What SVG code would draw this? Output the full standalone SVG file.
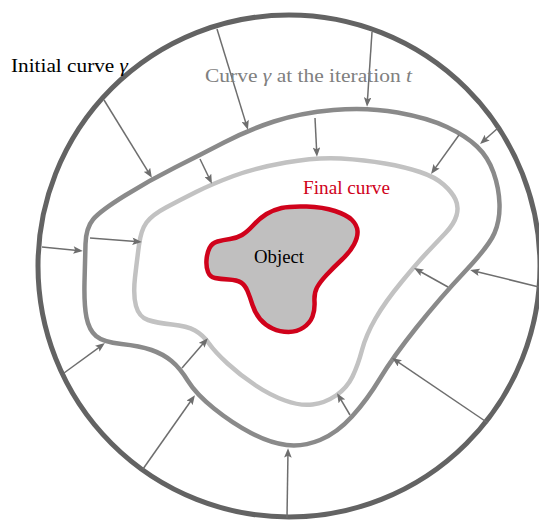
<svg xmlns="http://www.w3.org/2000/svg" width="539" height="520" viewBox="0 0 539 520">
<style>
.lbl{font-family:"Liberation Serif","Times New Roman",serif;font-size:19px}
.m{font-style:italic}
.arr{stroke:#6e6e6e;stroke-width:1.5;fill:none;marker-end:url(#ah)}
</style>
<defs>
<marker id="ah" viewBox="0 0 10 8" refX="7" refY="4" markerWidth="10" markerHeight="7.6" orient="auto" markerUnits="userSpaceOnUse">
<path d="M0,0 L10,4 L0,8 L2,4 Z" fill="#6e6e6e"/>
</marker>
</defs>
<rect width="539" height="520" fill="#ffffff"/>
<g id="initial-curve">
<circle cx="289" cy="266" r="251" fill="none" stroke="#636363" stroke-width="5"/>
</g>
<g id="iteration-curve">
<path d="M333.5,110 Q367,107 397.5,112.5 Q428,118 447,127 Q466,136 477,146.5 Q488,157 493.5,172.5 Q499,188 499.5,204 Q500,220 494.5,233 Q489,246 464.5,272 Q440,298 416.5,327.5 Q393,357 380,378.5 Q367,400 352,416.5 Q337,433 320,440 Q303,447 286.5,445 Q270,443 251,433 Q232,423 214,408.5 Q196,394 188,381 Q180,368 171.5,361 Q163,354 151.5,350 Q140,346 121.5,344 Q103,342 96,336 Q89,330 86.5,317.5 Q84,305 84.5,282.5 Q85,260 85.5,244 Q86,228 93,219.5 Q100,211 125,195.5 Q150,180 175,167.5 Q200,155 224,142.5 Q248,130 274,121.5 Q300,113 333.5,110 Z" fill="none" stroke="#8a8a8a" stroke-width="4.5"/>
</g>
<g id="final-curve">
<path d="M286,162.5 Q317,157 341,158.5 Q365,160 385,163.5 Q405,167 420,172 Q435,177 443.5,184.5 Q452,192 455.5,199.5 Q459,207 456.5,215.5 Q454,224 445.5,233 Q437,242 427.5,252 Q418,262 401.5,282 Q385,302 375.5,318.5 Q366,335 362,350 Q358,365 352.5,376.5 Q347,388 336,395.5 Q325,403 312.5,404.5 Q300,406 285,400.5 Q270,395 255,385 Q240,375 227.5,363.5 Q215,352 209,343.5 Q203,335 195,330.5 Q187,326 172,324.5 Q157,323 148,320 Q139,317 136,306 Q133,295 135,277.5 Q137,260 139,245 Q141,230 146.5,222.5 Q152,215 166,207.5 Q180,200 196,192 Q212,184 233.5,176 Q255,168 286,162.5 Z" fill="none" stroke="#c2c2c2" stroke-width="4.5"/>
</g>
<g id="object">
<path d="M209.5,248 Q212,243 217.5,241.5 Q223,240 230,239 Q237,238 242,235 Q247,232 253.5,225 Q260,218 266.5,214 Q273,210 281.5,208 Q290,206 306.5,206.5 Q323,207 335,211 Q347,215 352,220 Q357,225 357.5,231 Q358,237 354,244.5 Q350,252 341.5,260 Q333,268 326.5,275 Q320,282 317,287.5 Q314,293 314.5,301.5 Q315,310 312.5,316.5 Q310,323 303.5,327.5 Q297,332 288.5,332 Q280,332 272.5,328.5 Q265,325 260,319 Q255,313 252.5,305 Q250,297 247.5,291 Q245,285 241,282.5 Q237,280 228.5,279.5 Q220,279 215,278 Q210,277 208,272 Q206,267 206.5,260 Q207,253 209.5,248 Z" fill="#c0bfbf" stroke="#d0021b" stroke-width="4.5"/>
<text class="lbl" x="254" y="263" textLength="50" lengthAdjust="spacingAndGlyphs" fill="#000000">Object</text>
</g>
<g id="connectors">
<line class="arr" x1="104" y1="100" x2="150.4" y2="175.4"/>
<line class="arr" x1="217" y1="29" x2="247.1" y2="127.1"/>
<line class="arr" x1="200" y1="159" x2="210.7" y2="181.3"/>
<line class="arr" x1="42" y1="247" x2="80" y2="250.7"/>
<line class="arr" x1="90" y1="238" x2="139" y2="241.8"/>
<line class="arr" x1="372" y1="32" x2="367.2" y2="104"/>
<line class="arr" x1="315" y1="118" x2="316.8" y2="154"/>
<line class="arr" x1="498" y1="128" x2="482.2" y2="142"/>
<line class="arr" x1="459" y1="135" x2="432.7" y2="171.6"/>
<line class="arr" x1="64" y1="373" x2="102.6" y2="344.8"/>
<line class="arr" x1="143" y1="469" x2="193.3" y2="397.5"/>
<line class="arr" x1="182" y1="368" x2="206" y2="340.3"/>
<line class="arr" x1="539" y1="287" x2="472.9" y2="270.7"/>
<line class="arr" x1="448" y1="287" x2="416.6" y2="269.5"/>
<line class="arr" x1="488" y1="423" x2="394.5" y2="359.7"/>
<line class="arr" x1="350" y1="415" x2="338.5" y2="395.6"/>
<line class="arr" x1="287" y1="518" x2="288" y2="451"/>
</g>
<g id="label-initial">
<text class="lbl" x="11" y="72" textLength="117" lengthAdjust="spacingAndGlyphs" fill="#000000">Initial curve <tspan class="m">γ</tspan></text>
</g>
<g id="label-iteration">
<text class="lbl" x="205" y="82" textLength="207" lengthAdjust="spacingAndGlyphs" fill="#808080">Curve <tspan class="m">γ</tspan> at the iteration <tspan class="m">t</tspan></text>
</g>
<g id="label-final">
<text class="lbl" x="303" y="194" textLength="87" lengthAdjust="spacingAndGlyphs" fill="#d0021b">Final curve</text>
</g>
</svg>
